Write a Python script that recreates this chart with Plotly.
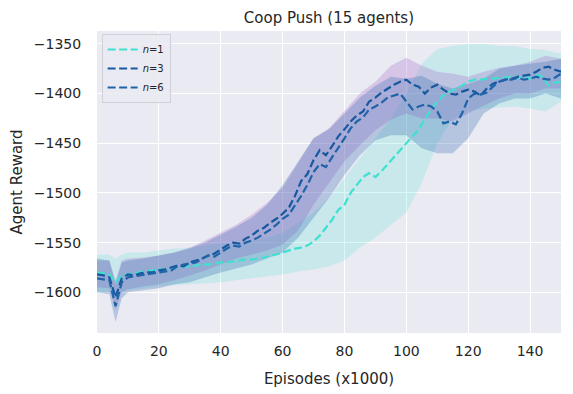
import plotly.graph_objects as go

# mean curves, sampled every 2k episodes
episodes = list(range(0, 151, 2))

reward_n1 = [
    -1580, -1581, -1582, -1590, -1583, -1582, -1581, -1580, -1579, -1578,
    -1577, -1577, -1576, -1575, -1574, -1574, -1573, -1572, -1572, -1571,
    -1570, -1570, -1569, -1568, -1567, -1567, -1566, -1565, -1563, -1562,
    -1560, -1558, -1556, -1555, -1553, -1549, -1543, -1535, -1527, -1517,
    -1512, -1500, -1492, -1484, -1480, -1484, -1478, -1471, -1464, -1457,
    -1451, -1443, -1436, -1426, -1416, -1408, -1402, -1398, -1395, -1392,
    -1388, -1386, -1386, -1385, -1385, -1384, -1384, -1383, -1384, -1383,
    -1385, -1381, -1383, -1392, -1389, -1388,
]
reward_n3 = [
    -1582, -1583, -1585, -1605, -1586, -1582, -1583, -1581, -1580, -1580,
    -1578, -1577, -1575, -1573, -1574, -1570, -1568, -1566, -1563, -1561,
    -1557, -1553, -1550, -1551, -1546, -1543, -1538, -1535, -1530, -1526,
    -1521, -1515, -1503, -1488, -1481, -1467, -1457, -1462, -1453, -1443,
    -1436, -1428, -1422, -1418, -1408, -1404, -1399, -1395, -1391, -1388,
    -1386, -1391, -1393, -1400, -1394, -1391, -1396, -1400, -1401, -1398,
    -1396, -1398, -1402, -1395, -1390, -1388, -1386, -1385, -1383, -1382,
    -1381, -1378, -1374, -1373, -1376, -1378,
]
reward_n6 = [
    -1586, -1587, -1588, -1614, -1590, -1585, -1584, -1583, -1582, -1581,
    -1580, -1579, -1578, -1574, -1572, -1571, -1570, -1566, -1563, -1564,
    -1560, -1556, -1553, -1554, -1550, -1548, -1545, -1541, -1537, -1532,
    -1526, -1522, -1513, -1503, -1492, -1479, -1471, -1474, -1464, -1455,
    -1445, -1435, -1428, -1424, -1416, -1413, -1409, -1404, -1402, -1400,
    -1408, -1416, -1413, -1411, -1413, -1418, -1430, -1428, -1431, -1420,
    -1405, -1400, -1401, -1399, -1393, -1388, -1386, -1386, -1384, -1386,
    -1385, -1383, -1385, -1386, -1384, -1380,
]

# spread bands (min/max over runs)
band_episodes = [0, 4, 6, 8, 10, 15, 20, 25, 30, 35, 40, 45, 50, 55, 60, 65, 70,
                 75, 80, 85, 90, 95, 100, 105, 110, 115, 120, 125, 130, 135, 140, 145, 150]

low_n1 = [-1600, -1600, -1606, -1600, -1598, -1596, -1594, -1593, -1592, -1591, -1590,
          -1588, -1586, -1584, -1582, -1579, -1577, -1574, -1568, -1555, -1545, -1532,
          -1520, -1490, -1450, -1425, -1418, -1415, -1414, -1413, -1415, -1418, -1408]
high_n1 = [-1562, -1562, -1566, -1562, -1560, -1560, -1558, -1556, -1555, -1553, -1551,
           -1550, -1548, -1545, -1540, -1530, -1520, -1505, -1485, -1465, -1445, -1425,
           -1400, -1370, -1355, -1352, -1350, -1350, -1352, -1352, -1355, -1356, -1360]
low_n3 = [-1595, -1596, -1618, -1600, -1597, -1594, -1592, -1588, -1583, -1578, -1572,
          -1566, -1562, -1558, -1552, -1538, -1512, -1490, -1468, -1452, -1437, -1426,
          -1420, -1425, -1425, -1428, -1420, -1412, -1405, -1400, -1400, -1395, -1395]
high_n3 = [-1568, -1568, -1588, -1568, -1566, -1565, -1563, -1560, -1555, -1548, -1540,
           -1532, -1522, -1510, -1495, -1470, -1445, -1435, -1418, -1400, -1388, -1372,
           -1364, -1372, -1378, -1380, -1383, -1378, -1374, -1372, -1368, -1362, -1365]
low_n6 = [-1600, -1602, -1630, -1606, -1600, -1598, -1596, -1592, -1590, -1585, -1580,
          -1576, -1572, -1566, -1560, -1545, -1525, -1505, -1482, -1462, -1447, -1442,
          -1442, -1455, -1460, -1460, -1445, -1420, -1410, -1405, -1405, -1400, -1405]
high_n6 = [-1566, -1568, -1592, -1570, -1568, -1566, -1563, -1560, -1556, -1550, -1542,
           -1534, -1525, -1512, -1492, -1468, -1445, -1436, -1420, -1404, -1392, -1383,
           -1385, -1382, -1390, -1395, -1390, -1385, -1375, -1372, -1370, -1368, -1365]

series = [
    ("<i>n</i>=1", reward_n1, low_n1, high_n1, "#40e0d0", "rgba(64,224,208,0.2)"),
    ("<i>n</i>=3", reward_n3, low_n3, high_n3, "#17589f", "rgba(160,100,200,0.28)"),
    ("<i>n</i>=6", reward_n6, low_n6, high_n6, "#1f64a8", "rgba(60,110,180,0.3)"),
]

fig = go.Figure()

for name, mean, low, high, line_color, fill_color in series:
    fig.add_trace(
        go.Scatter(
            x=band_episodes + band_episodes[::-1],
            y=low + high[::-1],
            fill="toself",
            fillcolor=fill_color,
            line={"width": 0},
            mode="lines",
            hoverinfo="skip",
            showlegend=False,
        )
    )

for name, mean, low, high, line_color, fill_color in series:
    fig.add_trace(
        go.Scatter(
            x=episodes,
            y=mean,
            mode="lines",
            name=name,
            line={"color": line_color, "width": 2.2, "dash": "8px,3.5px"},
        )
    )

fig.update_layout(
    width=565,
    height=386,
    margin={"l": 89, "r": 12, "t": 23, "b": 61},
    paper_bgcolor="white",
    plot_bgcolor="#eaeaf2",
    font={"family": "DejaVu Sans", "size": 14, "color": "#262626"},
    title={"text": "Coop Push (15 agents)", "x": 0.568, "xanchor": "center",
           "y": 0.974, "yanchor": "middle", "font": {"size": 15}},
    legend={
        "x": 0.01, "y": 0.99, "xanchor": "left", "yanchor": "top",
        "bgcolor": "rgba(234,234,242,0.85)", "bordercolor": "#d0d0d8", "borderwidth": 1,
        "font": {"size": 10}, "tracegroupgap": 0,
    },
    xaxis={
        "title": {"text": "Episodes (x1000)", "font": {"size": 15}},
        "range": [0, 150], "tickvals": list(range(0, 141, 20)),
        "gridcolor": "white", "gridwidth": 1.2, "zeroline": False, "showline": False,
        "ticks": "outside", "ticklen": 5, "tickcolor": "rgba(0,0,0,0)",
        "automargin": False,
    },
    yaxis={
        "title": {"text": "Agent Reward", "font": {"size": 15}},
        "range": [-1641, -1337], "tickvals": list(range(-1600, -1349, 50)),
        "gridcolor": "white", "gridwidth": 1.2, "zeroline": False, "showline": False,
        "ticks": "outside", "ticklen": 12, "tickcolor": "rgba(0,0,0,0)",
        "automargin": False,
    },
)

fig.write_html("out.html")
